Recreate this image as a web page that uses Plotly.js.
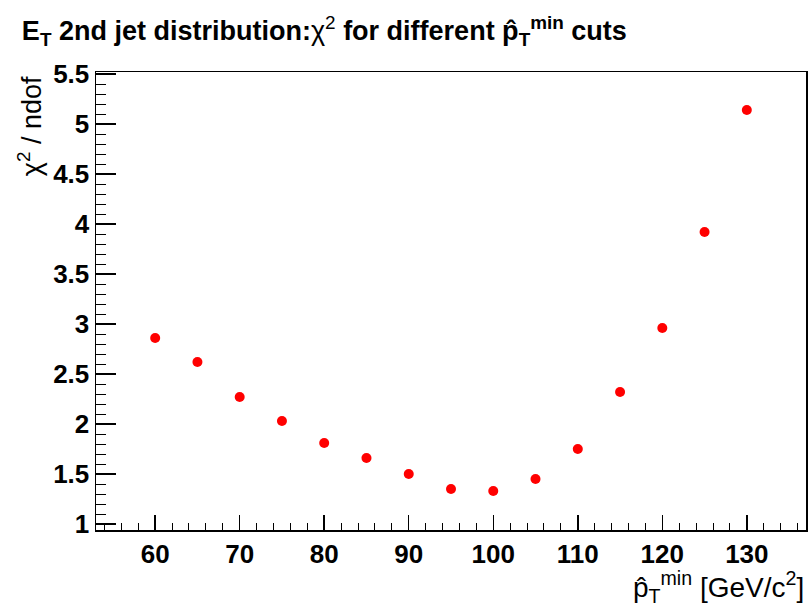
<!DOCTYPE html>
<html>
<head>
<meta charset="utf-8">
<script src="https://cdn.plot.ly/plotly-3.0.1.min.js"></script>
<style>
html,body{margin:0;padding:0;background:#fff;}
#chart{width:810px;height:606px;}
</style>
</head>
<body>
<div id="chart"></div>
<script>
const ptMinCuts = [60, 65, 70, 75, 80, 85, 90, 95, 100, 105, 110, 115, 120, 125, 130];
const chi2PerNdof = [2.86, 2.62, 2.27, 2.03, 1.81, 1.66, 1.50, 1.35, 1.33, 1.45, 1.75, 2.32, 2.96, 3.92, 5.14];

const titleText = '<b>E<sub>T</sub> 2nd jet distribution:</b>χ<sup>2</sup> <b>for different p̂<sub>T</sub><sup>min</sup> cuts</b>';
const xTitleText = 'p̂<sub>T</sub><sup>min</sup> [GeV/c<sup>2</sup>]';
const yTitleText = 'χ<sup>2</sup> / ndof';

const font = 'Liberation Sans, Arial, Helvetica, sans-serif';

const trace = {
  x: ptMinCuts,
  y: chi2PerNdof,
  type: 'scatter',
  mode: 'markers',
  marker: {color: '#ff0000', size: 10},
  hoverinfo: 'x+y'
};

const layout = {
  width: 810,
  height: 606,
  paper_bgcolor: '#ffffff',
  plot_bgcolor: '#ffffff',
  margin: {l: 96, r: 4, t: 72, b: 76},
  showlegend: false,
  font: {family: font, color: '#000'},
  title: {
    text: titleText,
    x: 0.027, xanchor: 'left',
    y: 1 - 31/606, yanchor: 'middle', yref: 'container',
    font: {family: font, size: 27, color: '#000'}
  },
  xaxis: {
    range: [53, 137],
    tick0: 0, dtick: 10,
    ticks: 'inside', ticklen: 15, tickwidth: 1.5, tickcolor: '#000',
    minor: {dtick: 2, ticks: 'inside', ticklen: 7, tickwidth: 1, tickcolor: '#000'},
    showline: true, linecolor: '#000', linewidth: 1.5, mirror: true,
    showgrid: false, zeroline: false,
    tickfont: {family: font, size: 26, color: '#000', weight: 'bold'}
  },
  yaxis: {
    range: [0.94, 5.52],
    tick0: 0, dtick: 0.5,
    ticks: 'inside', ticklen: 20, tickwidth: 1.5, tickcolor: '#000',
    minor: {dtick: 0.1, ticks: 'inside', ticklen: 10, tickwidth: 1, tickcolor: '#000'},
    showline: true, linecolor: '#000', linewidth: 1.5, mirror: true,
    showgrid: false, zeroline: false,
    tickfont: {family: font, size: 26, color: '#000', weight: 'bold'}
  },
  annotations: [
    {
      text: xTitleText,
      xref: 'paper', yref: 'paper',
      x: 1, y: -0.125, xanchor: 'right', yanchor: 'middle',
      showarrow: false,
      font: {family: font, size: 28, color: '#000'}
    },
    {
      text: yTitleText,
      xref: 'paper', yref: 'paper',
      x: -0.093, y: 0.995, xanchor: 'center', yanchor: 'top',
      textangle: -90,
      showarrow: false,
      font: {family: font, size: 27, color: '#000'}
    }
  ]
};

Plotly.newPlot('chart', [trace], layout, {displayModeBar: false, staticPlot: true});
</script>
</body>
</html>
